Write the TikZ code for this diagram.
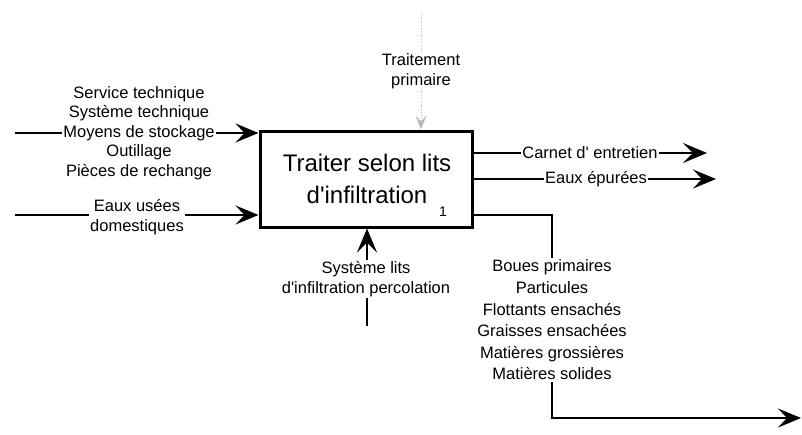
\documentclass[tikz,border=0pt]{standalone}
\usepackage{fontspec}
\setmainfont{Liberation Sans}
\newfontfamily\lib{Liberation Sans}
\usetikzlibrary{arrows.meta}
\begin{document}
\begin{tikzpicture}[x=1pt,y=-1pt,
  actbox/.style={draw, line width=3pt, minimum width=212pt, minimum height=96pt, inner sep=0pt},
  title/.style={font=\lib\fontsize{24}{32}\selectfont, align=center, inner sep=0pt},
  lbl/.style={font=\lib\fontsize{16.5}{19.6}\selectfont, align=center, inner sep=1.5pt, fill=white},
  lblo/.style={font=\lib\fontsize{16.5}{21.6}\selectfont, align=center, inner sep=1.5pt, fill=white},
  flow/.style={line width=1.9pt, -{Stealth[length=23pt,width=19pt,inset=9pt]}},
  flowbold/.style={line width=2.6pt, -{Stealth[length=24pt,width=20pt,inset=10pt]}},
  ctrl/.style={line width=0.8pt, gray!55, dotted, -{Stealth[length=14pt,width=11pt,inset=6pt]}}]
\useasboundingbox (0,0) rectangle (802,434);

% activity box
\node[actbox] (act) at (366,179) {};
\node[title] (ttl) at (367,179) {Traiter selon lits\\d'infiltration};
\node[font=\lib\fontsize{14}{16}\selectfont, inner sep=0pt] (num) at (443,212) {1};

% inputs
\coordinate (i1s) at (15,133);
\draw[flow] (i1s) -- (act.west |- i1s);
\node[lbl] (i1) at (139,133) {Service technique\\Système technique\\Moyens de stockage\\Outillage\\Pièces de rechange};

\coordinate (i2s) at (15,215);
\draw[flow] (i2s) -- (act.west |- i2s);
\node[lbl] (i2) at (137,217) {Eaux usées\\domestiques};

% control
\coordinate (c0) at (421,14);
\draw[ctrl] (c0) -- (act.north -| c0);
\node[lbl] (ctl) at (421,71) {Traitement\\primaire};

% mechanism
\coordinate (m0) at (367,326);
\draw[flowbold] (m0) -- (act.south -| m0);
\node[lbl] (mech) at (366,279) {Système lits\\d'infiltration percolation};

% outputs
\coordinate (o1e) at (707,153);
\draw[flowbold] (act.east |- o1e) -- (o1e);
\node[lbl] (o1) at (590,153) {Carnet d' entretien};

\coordinate (o2e) at (716,179);
\draw[flow] (act.east |- o2e) -- (o2e);
\node[lbl] (o2) at (596,179) {Eaux épurées};

\coordinate (o3a) at (552,215);
\coordinate (o3b) at (552,418);
\coordinate (o3e) at (801,418);
\draw[flow] (act.east |- o3a) -- (o3a) -- (o3b) -- (o3e);
\node[lblo] (o3) at (552,320) {Boues primaires\\Particules\\Flottants ensachés\\Graisses ensachées\\Matières grossières\\Matières solides};
\end{tikzpicture}
\end{document}
